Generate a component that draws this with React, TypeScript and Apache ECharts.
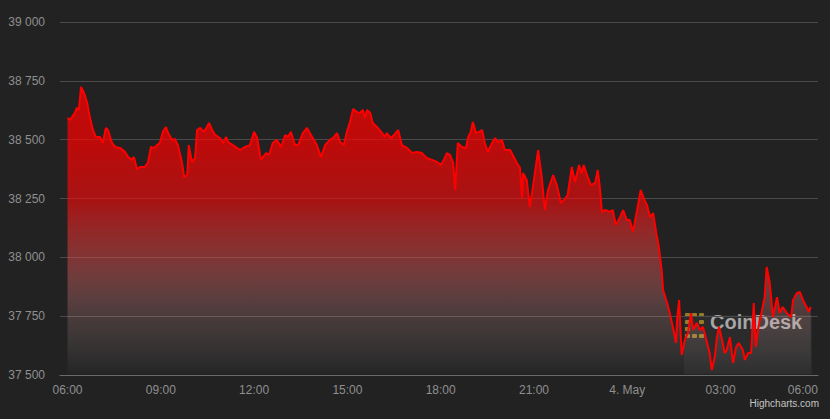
import React, { useEffect, useRef } from "react";
import * as echarts from "echarts";

// minutes after 3 May 06:00
const minutes = [
  0, 5, 14, 18, 22, 26, 32, 38, 43, 49, 55, 63, 68, 74, 78, 86, 92, 101, 111, 117, 124, 128, 134, 140, 149, 155,
  161, 167, 173, 178, 184, 190, 194, 202, 207, 213, 221, 225, 231, 234, 240, 246, 250, 256, 263, 269, 273, 279,
  285, 294, 300, 306, 310, 319, 333, 342, 352, 360, 366, 373, 383, 389, 396, 404, 412, 420, 425, 431, 439, 445,
  454, 462, 472, 481, 489, 497, 506, 512, 520, 526, 533, 539, 545, 551, 558, 564, 570, 574, 578, 584, 589, 597,
  607, 612, 616, 624, 630, 638, 645, 655, 665, 674, 684, 693, 703, 713, 720, 726, 732, 738, 744, 748, 753, 761,
  769, 773, 778, 782, 788, 794, 800, 805, 811, 819, 825, 830, 838, 844, 854, 859, 867, 873, 877, 879, 886, 892,
  898, 908, 915, 921, 927, 937, 944, 952, 958, 965, 973, 979, 987, 992, 996, 1002, 1010, 1018, 1023, 1027, 1031,
  1037, 1047, 1052, 1058, 1066, 1072, 1079, 1085, 1091, 1099, 1106, 1113, 1118, 1124, 1130, 1136, 1141, 1147,
  1149, 1157, 1162, 1168, 1174, 1176, 1180, 1185, 1191, 1197, 1203, 1207, 1214, 1220, 1226, 1234, 1239, 1243,
  1249, 1253, 1257, 1263, 1268, 1272, 1278, 1284, 1290, 1295, 1303, 1307, 1313, 1319, 1324, 1328, 1332, 1340,
  1345, 1349, 1355, 1361, 1365, 1369, 1374, 1380, 1384, 1388, 1396, 1400, 1407, 1413, 1419, 1427, 1430, 1434,
];

const prices = [
  38592, 38584, 38613, 38635, 38626, 38724, 38698, 38656, 38596, 38541, 38511, 38511, 38486, 38550, 38541, 38486,
  38469, 38465, 38448, 38426, 38414, 38426, 38375, 38384, 38384, 38401, 38469, 38465, 38477, 38486, 38533, 38554,
  38528, 38499, 38503, 38477, 38401, 38341, 38350, 38477, 38405, 38422, 38541, 38550, 38533, 38554, 38571, 38541,
  38520, 38507, 38486, 38511, 38490, 38477, 38456, 38469, 38477, 38533, 38507, 38414, 38443, 38435, 38486, 38499,
  38469, 38520, 38511, 38533, 38477, 38477, 38528, 38550, 38511, 38477, 38426, 38477, 38499, 38507, 38528, 38490,
  38477, 38533, 38575, 38630, 38618, 38613, 38626, 38592, 38626, 38613, 38571, 38554, 38528, 38511, 38528, 38507,
  38520, 38541, 38477, 38465, 38443, 38448, 38443, 38422, 38414, 38405, 38392, 38414, 38443, 38435, 38401, 38286,
  38486, 38469, 38465, 38511, 38533, 38575, 38528, 38533, 38541, 38486, 38448, 38486, 38507, 38490, 38499, 38456,
  38456, 38435, 38401, 38380, 38252, 38358, 38329, 38214, 38299, 38456, 38341, 38201, 38286, 38350, 38307, 38231,
  38244, 38265, 38384, 38320, 38392, 38358, 38392, 38350, 38307, 38316, 38371, 38299, 38193, 38201, 38193, 38201,
  38137, 38171, 38201, 38159, 38159, 38108, 38201, 38286, 38244, 38222, 38171, 38188, 38103, 38044, 37933, 37861,
  37806, 37763, 37704, 37636, 37734, 37819, 37585, 37649, 37678, 37763, 37691, 37721, 37691, 37704, 37636, 37593,
  37521, 37577, 37661, 37704, 37649, 37593, 37606, 37661, 37551, 37619, 37636, 37606, 37564, 37593, 37593, 37806,
  37619, 37691, 37776, 37831, 37959, 37891, 37746, 37789, 37831, 37763, 37789, 37776, 37763, 37746, 37819, 37848,
  37853, 37819, 37785, 37768, 37789,
];

const xTickMinutes = [0, 180, 360, 540, 720, 900, 1080, 1260, 1440];
const xTickLabels = ["06:00", "09:00", "12:00", "15:00", "18:00", "21:00", "4. May", "03:00", "06:00"];

const yMin = 37500;
const yMax = 39000;
const yStep = 250;

const labelColor = "#8f8f8f";
const fontFamily = "'Liberation Sans', Arial, sans-serif";

export default function App() {
  const ref = useRef<HTMLDivElement>(null);

  useEffect(() => {
    if (!ref.current) return;
    const chart = echarts.init(ref.current, null, { renderer: "svg" });
    const data = minutes.map((m, i) => [m, prices[i]]);
    const lastIdx = xTickLabels.length - 1;

    const dots: any[] = [];
    const dotPos = [
      [685, 313], [692, 313], [699, 313],
      [685, 320], [699, 320],
      [685, 327],
      [685, 334], [692, 334], [699, 334],
    ];
    dotPos.forEach(([x, y]) =>
      dots.push({
        type: "rect",
        shape: { x, y, width: 5, height: 4, r: 1 },
        style: { fill: "rgba(196,160,40,0.7)" },
        silent: true,
      })
    );

    chart.setOption({
      animation: false,
      backgroundColor: "#222222",
      textStyle: { fontFamily },
      grid: { left: 60, right: 12, top: 22, bottom: 44, containLabel: false },
      xAxis: {
        type: "value",
        min: -14.5,
        max: 1448,
        splitLine: { show: false },
        axisTick: { show: false },
        axisLine: { show: true, lineStyle: { color: "#6a6a6a", width: 1 } },
        axisLabel: {
          customValues: xTickMinutes,
          color: labelColor,
          fontSize: 12,
          margin: 9,
          formatter: (v: number) => {
            const i = xTickMinutes.indexOf(v);
            const s = i >= 0 ? xTickLabels[i] : "";
            return i === lastIdx ? `{r|${s}}` : s;
          },
          rich: {
            r: { color: labelColor, fontSize: 12, padding: [0, 22, 0, 0], fontFamily },
          },
        },
      },
      yAxis: {
        type: "value",
        min: yMin,
        max: yMax,
        interval: yStep,
        axisLine: { show: false },
        axisTick: { show: false },
        splitLine: { lineStyle: { color: "#4a4a4a", width: 1 } },
        axisLabel: {
          color: labelColor,
          fontSize: 12,
          margin: 15,
          formatter: (v: number) => String(v).replace(/\B(?=(\d{3})+$)/g, " "),
        },
      },
      graphic: [
        {
          type: "rect",
          shape: { x: 684, y: 315, width: 128, height: 59 },
          style: { fill: "rgba(255,255,255,0.045)" },
          silent: true,
        },
        ...dots,
        {
          type: "text",
          left: 710,
          top: 312,
          silent: true,
          style: {
            text: "CoinDesk",
            fill: "rgba(215,215,215,0.72)",
            font: `bold 20px ${fontFamily}`,
          },
        },
        {
          type: "text",
          right: 11,
          top: 398,
          silent: true,
          style: {
            text: "Highcharts.com",
            fill: "#c4c4c4",
            font: `10px ${fontFamily}`,
          },
        },
      ],
      series: [
        {
          type: "line",
          data,
          showSymbol: false,
          symbol: "none",
          z: 3,
          lineStyle: { color: "#ff0000", width: 2 },
          areaStyle: {
            origin: "start",
            opacity: 1,
            color: new echarts.graphic.LinearGradient(0, 0, 0, 1, [
              { offset: 0, color: "rgba(255,0,0,0.74)" },
              { offset: 0.2, color: "rgba(255,0,0,0.7)" },
              { offset: 0.4, color: "rgba(255,10,10,0.6)" },
              { offset: 0.6, color: "rgba(255,80,80,0.42)" },
              { offset: 0.8, color: "rgba(255,170,170,0.18)" },
              { offset: 1, color: "rgba(255,255,255,0.01)" },
            ]),
          },
        },
      ],
    });
    return () => chart.dispose();
  }, []);

  return (
    <div
      ref={ref}
      style={{ position: "fixed", left: 0, top: 0, width: 830, height: 419 }}
    />
  );
}
